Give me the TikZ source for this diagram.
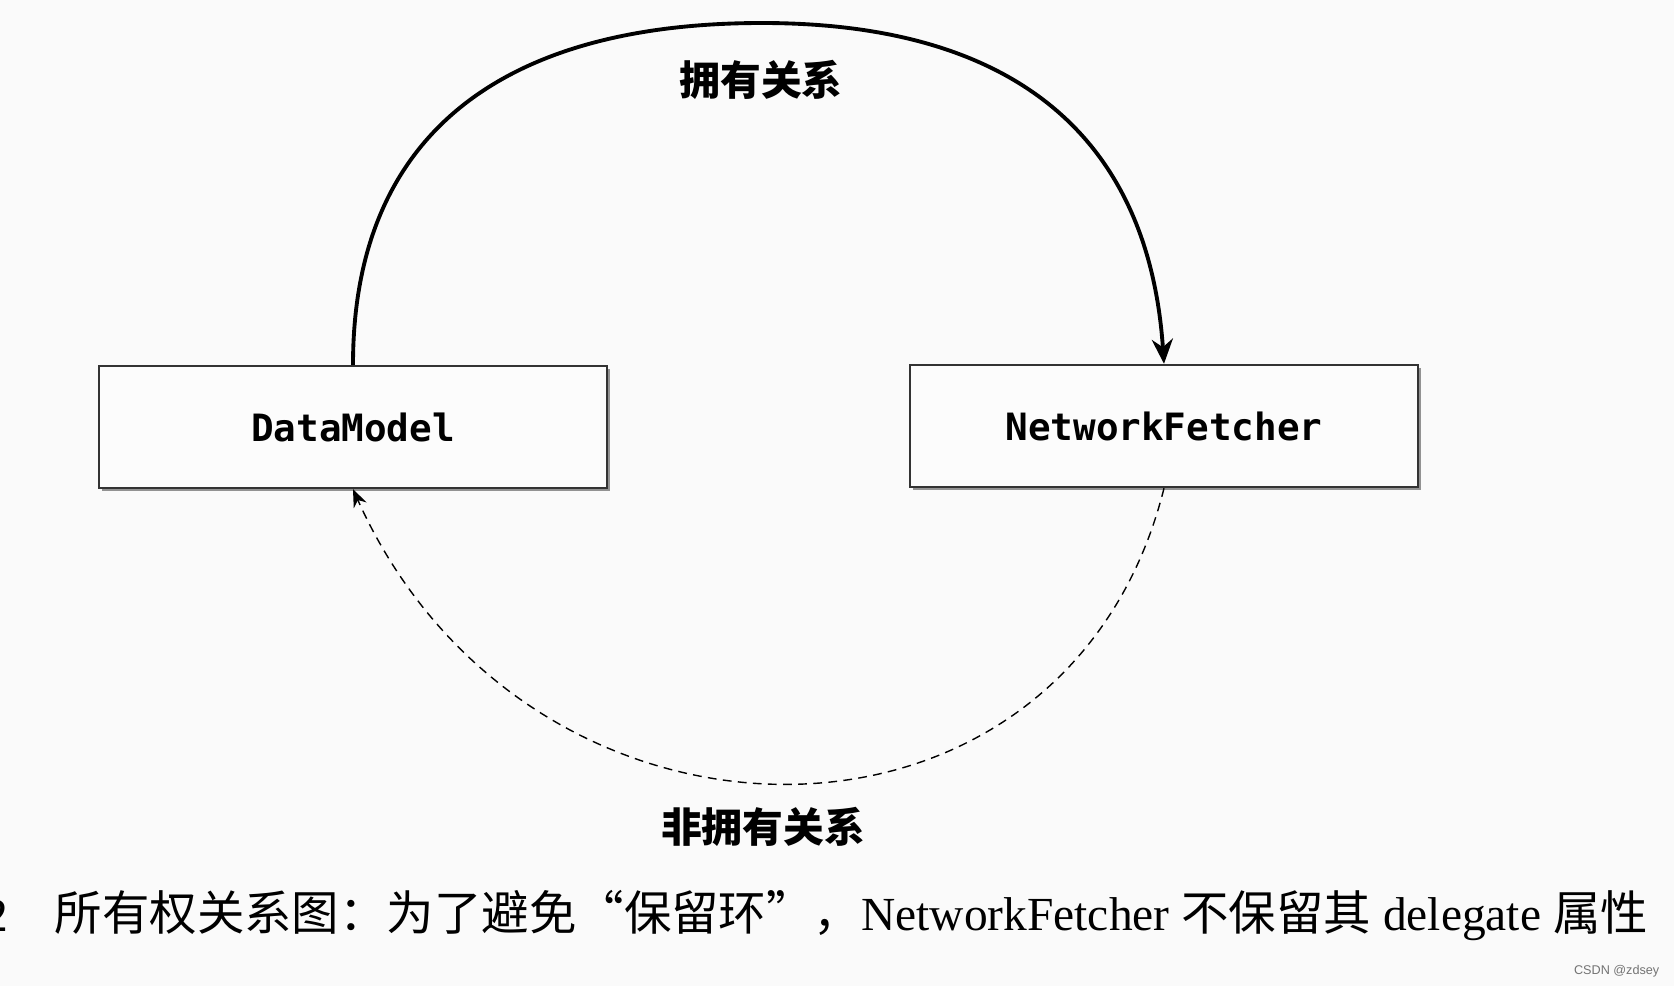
\documentclass[tikz,border=0pt]{standalone}
\usepackage{fontspec}
\setmainfont{Liberation Serif}
\newfontfamily\cjk{Noto Sans CJK SC}
\newfontfamily\codefont{DejaVu Sans Mono}
\newfontfamily\wmfont{Liberation Sans}
\usetikzlibrary{arrows.meta,shadows}
\newcommand\zh[1]{{\cjk\fontsize{13.5}{15}\selectfont #1}}

\begin{document}
\begin{tikzpicture}[>={Stealth[length=7pt,width=6pt]},
    cls/.style={draw=black!80,line width=0.7pt,fill=black!1,minimum width=5.08cm,minimum height=1.22cm,inner sep=0pt,
      drop shadow={shadow xshift=0.8pt,shadow yshift=-0.8pt,fill=black!60,opacity=0.7},
      font=\codefont\bfseries\fontsize{10.7}{12}\selectfont},
    rel/.style={font=\cjk\bfseries\fontsize{11.6}{13}\selectfont}]
  \useasboundingbox[fill=black!2] (0,0) rectangle (16.74,9.86);
  \node[cls] (dm) at (3.53,5.59) {DataModel};
  \node[cls] (nf) at (11.64,5.60) {NetworkFetcher};
  \coordinate (top) at (7.62,9.63);
  % owning reference
  \draw[line width=1.1pt,->] (dm.north) .. controls +(0,2.3) and +(-2.6,0) .. (top)
     .. controls +(2.6,0) and +(-0.15,2.2) .. (nf.north);
  \node[rel] (own) at (7.61,9.06) {拥有关系};
  % weak reference
  \draw[thin,dash pattern=on 2.5pt off 1.8pt,-{Stealth[length=5pt,width=4pt]}] (nf.south)
     .. controls +(-0.99,-3.95) and +(1.75,-3.90) .. (dm.south);
  \node[rel] (weak) at (7.63,1.59) {非拥有关系};
  \node[anchor=east,inner sep=0pt,font=\fontsize{13.5}{15}\selectfont] (num) at (0.09,0.70) {2};
  \node[anchor=west,inner sep=0pt,font=\fontsize{13.5}{15}\selectfont] (cap) at (0.54,0.70)
    {\zh{所有权关系图：为了避免“保留环”，}NetworkFetcher \zh{不保留其} delegate \zh{属性}};
  \node[anchor=east,inner sep=0pt,text=black!55,font=\wmfont\fontsize{3.6}{4}\selectfont] (wm) at (16.60,0.15) {CSDN @zdsey};
\end{tikzpicture}
\end{document}
